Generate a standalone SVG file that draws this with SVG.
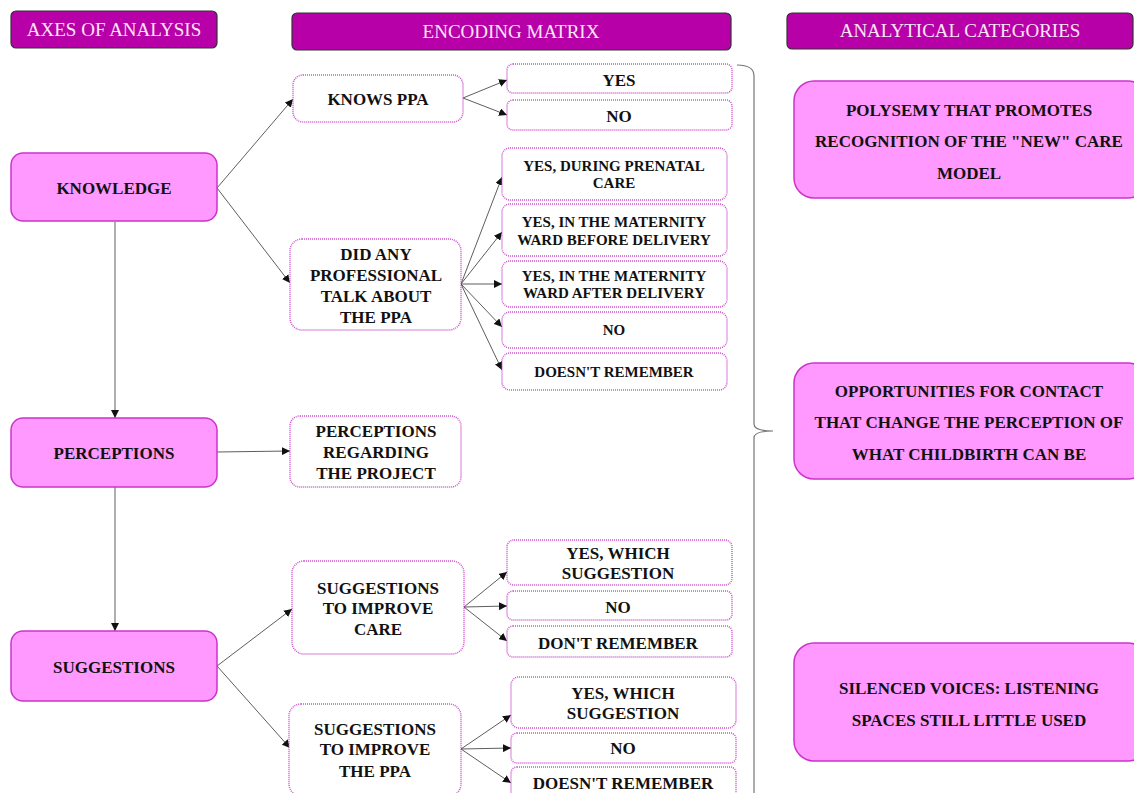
<svg xmlns="http://www.w3.org/2000/svg" width="1134" height="793" viewBox="0 0 1134 793">
<defs>
<style>
.hdr{fill:#b800a8;stroke:#333;stroke-width:1.2}
.hdrt{font-family:"Liberation Serif","Times New Roman",serif;font-size:19px;fill:#f8e6f6;text-anchor:middle}
.axis{fill:#ff99ff;stroke:#cc33cc;stroke-width:1.5}
.cat{fill:#ff99ff;stroke:#cc33cc;stroke-width:1.5}
.code{fill:#fff;stroke:#d050d0;stroke-width:1.5;stroke-dasharray:1 1}
.t{font-family:"Liberation Serif","Times New Roman",serif;font-weight:bold;font-size:17px;fill:#111;text-anchor:middle}
.s{font-size:15px}
.c{fill:none;stroke:#333;stroke-width:0.8;marker-end:url(#ah)}
.brace{fill:none;stroke:#777;stroke-width:1.2}
</style>
<marker id="ah" viewBox="0 0 10 10" refX="10" refY="5" markerWidth="8" markerHeight="8" markerUnits="userSpaceOnUse" orient="auto">
<path d="M0,0 L10,5 L0,10 z" fill="#111"/>
</marker>
</defs>
<rect width="1134" height="793" fill="#fff"/>

<g id="header-axes"><rect class="hdr" x="11" y="11" width="206" height="37" rx="5"/><text class="hdrt" x="114" y="36">AXES OF ANALYSIS</text></g>
<g id="header-encoding"><rect class="hdr" x="292" y="13" width="439" height="37" rx="5"/><text class="hdrt" x="511" y="38">ENCODING MATRIX</text></g>
<g id="header-categories"><rect class="hdr" x="787" y="13" width="346" height="36" rx="5"/><text class="hdrt" x="960" y="37">ANALYTICAL CATEGORIES</text></g>

<g id="connectors">
<line class="c" x1="115" y1="222" x2="115" y2="418"/>
<line class="c" x1="115" y1="487" x2="115" y2="631"/>
<line class="c" x1="217" y1="188" x2="293" y2="99"/>
<line class="c" x1="217" y1="188" x2="290" y2="283"/>
<line class="c" x1="463" y1="98" x2="507" y2="80"/>
<line class="c" x1="463" y1="98" x2="507" y2="115"/>
<line class="c" x1="461" y1="284" x2="502" y2="177"/>
<line class="c" x1="461" y1="284" x2="502" y2="232"/>
<line class="c" x1="461" y1="284" x2="502" y2="284"/>
<line class="c" x1="461" y1="284" x2="502" y2="327"/>
<line class="c" x1="461" y1="284" x2="502" y2="370"/>
<line class="c" x1="217" y1="452" x2="290" y2="451"/>
<line class="c" x1="217" y1="666" x2="292" y2="609"/>
<line class="c" x1="217" y1="666" x2="290" y2="748"/>
<line class="c" x1="464" y1="607" x2="507" y2="572"/>
<line class="c" x1="464" y1="607" x2="507" y2="606"/>
<line class="c" x1="464" y1="607" x2="507" y2="641"/>
<line class="c" x1="461" y1="749" x2="511" y2="715"/>
<line class="c" x1="461" y1="749" x2="511" y2="748"/>
<line class="c" x1="461" y1="749" x2="511" y2="783"/>
<path class="brace" d="M737,65 Q754,65 754,76 L754,424 Q754,431 773,431 Q754,431 754,438 L754,800"/>
</g>

<g id="knowledge"><rect class="axis" x="11" y="153" width="206" height="68" rx="12"/><text class="t" x="114" y="194">KNOWLEDGE</text></g>
<g id="perceptions"><rect class="axis" x="11" y="418" width="206" height="69" rx="12"/><text class="t" x="114" y="459">PERCEPTIONS</text></g>
<g id="suggestions"><rect class="axis" x="11" y="631" width="206" height="70" rx="12"/><text class="t" x="114" y="673">SUGGESTIONS</text></g>

<g id="knows-ppa"><rect class="code" x="293" y="75" width="170" height="47" rx="10"/><text class="t" x="378" y="105">KNOWS PPA</text></g>
<g id="did-any-professional"><rect class="code" x="290" y="239" width="171" height="91" rx="12"/>
<text class="t" x="376" y="260">DID ANY</text><text class="t" x="376" y="281">PROFESSIONAL</text><text class="t" x="376" y="302">TALK ABOUT</text><text class="t" x="376" y="323">THE PPA</text></g>
<g id="perceptions-project"><rect class="code" x="290" y="416" width="171" height="71" rx="10"/>
<text class="t" x="376" y="437">PERCEPTIONS</text><text class="t" x="376" y="458">REGARDING</text><text class="t" x="376" y="479">THE PROJECT</text></g>
<g id="suggestions-care"><rect class="code" x="292" y="561" width="172" height="93" rx="12"/>
<text class="t" x="378" y="594">SUGGESTIONS</text><text class="t" x="378" y="614">TO IMPROVE</text><text class="t" x="378" y="635">CARE</text></g>
<g id="suggestions-ppa"><rect class="code" x="289" y="704" width="172" height="92" rx="12"/>
<text class="t" x="375" y="735">SUGGESTIONS</text><text class="t" x="375" y="755">TO IMPROVE</text><text class="t" x="375" y="777">THE PPA</text></g>

<g id="kp-yes"><rect class="code" x="507" y="64" width="225" height="29" rx="6"/><text class="t" x="619" y="86">YES</text></g>
<g id="kp-no"><rect class="code" x="507" y="100" width="225" height="30" rx="6"/><text class="t" x="619" y="122">NO</text></g>

<g id="dp-prenatal"><rect class="code" x="502" y="148" width="225" height="52" rx="8"/><text class="t s" x="614" y="171">YES, DURING PRENATAL</text><text class="t s" x="614" y="188">CARE</text></g>
<g id="dp-before"><rect class="code" x="502" y="204" width="225" height="52" rx="8"/><text class="t s" x="614" y="227">YES, IN THE MATERNITY</text><text class="t s" x="614" y="245">WARD BEFORE DELIVERY</text></g>
<g id="dp-after"><rect class="code" x="502" y="261" width="225" height="46" rx="8"/><text class="t s" x="614" y="281">YES, IN THE MATERNITY</text><text class="t s" x="614" y="298">WARD AFTER DELIVERY</text></g>
<g id="dp-no"><rect class="code" x="502" y="312" width="225" height="36" rx="8"/><text class="t s" x="614" y="335">NO</text></g>
<g id="dp-dont"><rect class="code" x="502" y="353" width="225" height="37" rx="8"/><text class="t s" x="614" y="377">DOESN'T REMEMBER</text></g>

<g id="sc-yes"><rect class="code" x="507" y="540" width="225" height="45" rx="7"/><text class="t" x="618" y="559">YES, WHICH</text><text class="t" x="618" y="579">SUGGESTION</text></g>
<g id="sc-no"><rect class="code" x="507" y="591" width="225" height="29" rx="6"/><text class="t" x="618" y="613">NO</text></g>
<g id="sc-dont"><rect class="code" x="507" y="626" width="225" height="31" rx="6"/><text class="t" x="618" y="649">DON'T REMEMBER</text></g>

<g id="sp-yes"><rect class="code" x="511" y="677" width="225" height="51" rx="8"/><text class="t" x="623" y="699">YES, WHICH</text><text class="t" x="623" y="719">SUGGESTION</text></g>
<g id="sp-no"><rect class="code" x="511" y="733" width="225" height="30" rx="6"/><text class="t" x="623" y="754">NO</text></g>
<g id="sp-dont"><rect class="code" x="511" y="767" width="225" height="34" rx="6"/><text class="t" x="623" y="789">DOESN'T REMEMBER</text></g>

<g id="cat-polysemy"><rect class="cat" x="794" y="81" width="354" height="117" rx="20"/>
<text class="t" x="969" y="116">POLYSEMY THAT PROMOTES</text><text class="t" x="969" y="147">RECOGNITION OF THE "NEW" CARE</text><text class="t" x="969" y="179">MODEL</text></g>
<g id="cat-opportunities"><rect class="cat" x="794" y="363" width="354" height="116" rx="20"/>
<text class="t" x="969" y="397">OPPORTUNITIES FOR CONTACT</text><text class="t" x="969" y="428">THAT CHANGE THE PERCEPTION OF</text><text class="t" x="969" y="460">WHAT CHILDBIRTH CAN BE</text></g>
<g id="cat-silenced"><rect class="cat" x="794" y="643" width="354" height="118" rx="20"/>
<text class="t" x="969" y="694">SILENCED VOICES: LISTENING</text><text class="t" x="969" y="726">SPACES STILL LITTLE USED</text></g>
</svg>
